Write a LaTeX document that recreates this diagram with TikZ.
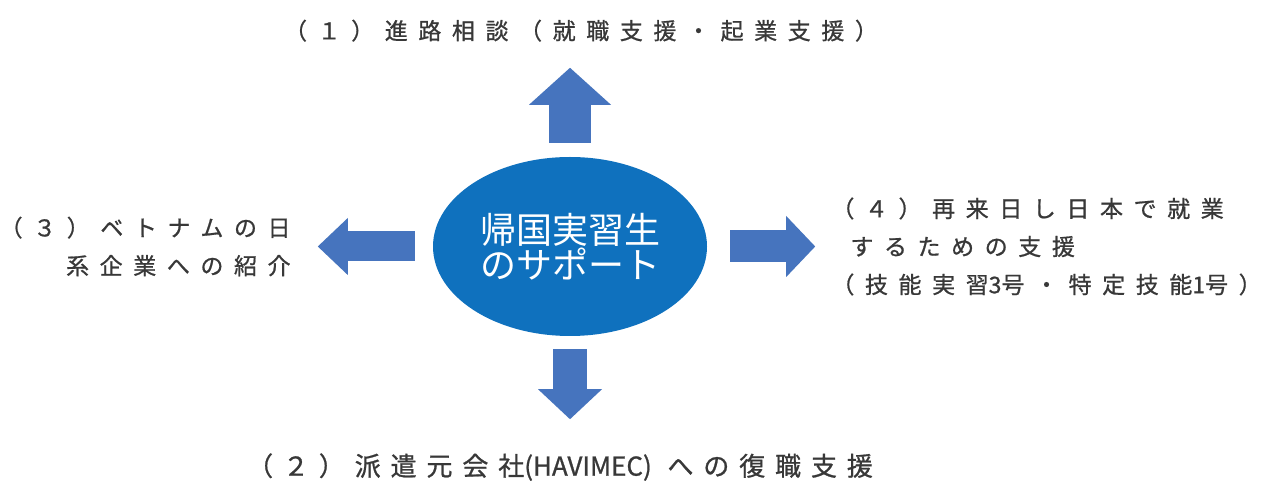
\documentclass[tikz,border=0pt]{standalone}
\usepackage{fontspec}
\newfontfamily\jp[FakeBold=0.8]{Noto Sans CJK JP}
\newfontfamily\jphub{Noto Sans CJK JP}
\newfontfamily\jpwide[LetterSpace=46,FakeBold=0.8]{Noto Sans CJK JP}
\newfontfamily\jpbig[LetterSpace=38,FakeBold=0.8]{Noto Sans CJK JP}
\usetikzlibrary{positioning,arrows.meta,shapes.geometric}
\definecolor{hubblue}{RGB}{15,113,190}
\definecolor{arrowblue}{RGB}{70,116,190}
\definecolor{textgray}{RGB}{56,56,56}
\tikzset{
  hubnode/.style={ellipse, fill=hubblue, text=white, inner sep=0pt, minimum width=274pt, minimum height=179pt, align=center, font={\jphub\fontsize{36}{33}\selectfont}},
  topic/.style={inner sep=0pt, text=textgray, font={\jpwide\fontsize{23}{38}\selectfont}},
  blockarrow/.style n args={3}{draw=arrowblue, line width=#1, -{Triangle[length=#2, width=#3, line width=0pt]}}
}
\begin{document}
\begin{tikzpicture}[x=1pt, y=1pt]
\path[fill=white] (0,0) rectangle (1270,482);
\useasboundingbox (0,0) rectangle (1270,482);
\node (hub) [hubnode] at (570,235.5) {帰国実習生\\のサポート};
\node (lab1) [topic, above=115pt of hub, xshift=11pt] {（１）進路相談（就職支援・起業支援）};
\node (lab2) [topic, below=117pt of hub, xshift=-10pt, font={\jpbig\fontsize{26}{38}\selectfont}] {（２）派遣元会社{\jp (HAVIMEC)} への復職支援};
\node (lab3) [topic, align=right, left=142pt of hub] {（３）ベトナムの日\\系企業への紹介};
\node (lab4) [topic, align=left, right=124pt of hub] {（４）再来日し日本で就業\\\hspace{19pt}するための支援\\（技能実習{\jp 3}号・特定技能{\jp 1}号）};
\draw [blockarrow={42pt}{37pt}{82pt}, shorten <=14pt, shorten >=26pt] (hub.north) -- (hub.north |- lab1.south);
\draw [blockarrow={34pt}{30pt}{64pt}, shorten <=13pt, shorten >=34pt] (hub.south) -- (hub.south |- lab2.north);
\draw [blockarrow={30pt}{30pt}{57pt}, shorten <=18pt, shorten >=27pt] (hub.west) -- (lab3.east |- hub.west);
\draw [blockarrow={32pt}{29pt}{61pt}, shorten <=23pt, shorten >=16pt] (hub.east) -- (lab4.west |- hub.east);
\end{tikzpicture}
\end{document}
